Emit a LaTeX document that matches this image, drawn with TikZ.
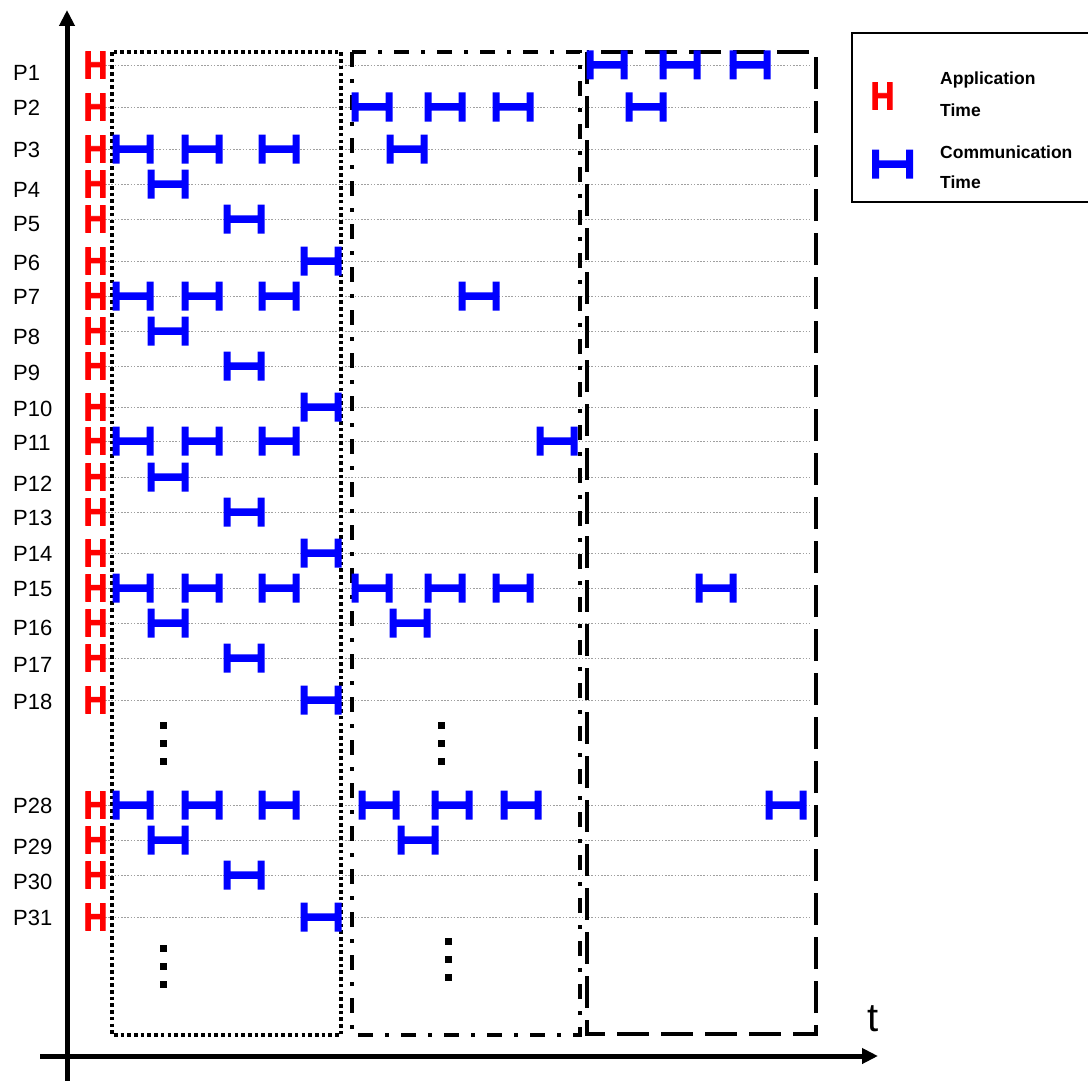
\documentclass[tikz,border=0pt]{standalone}
\usepackage{fontspec}
\usepackage{graphicx}
\setmainfont{Liberation Sans}
\newfontfamily\hfont{Liberation Sans}[BoldFeatures={FakeBold=2.5}]
\usetikzlibrary{arrows.meta}
\definecolor{beamblue}{RGB}{0,0,255}
\definecolor{appred}{RGB}{255,0,0}
\definecolor{gridgray}{RGB}{160,160,160}
\tikzset{
  ibeam/.pic={\fill[beamblue] (-20.5,-14.5) rectangle (-13.5,14.5)
                               (13.5,-14.5) rectangle (20.5,14.5)
                               (-14,-3.75) rectangle (14,3.75);},
  gridline/.style={draw=gridgray, line width=0.9pt, dash pattern=on 1.6pt off 1.6pt},
  plabel/.style={anchor=west, inner sep=0pt, font=\fontsize{22}{26}\selectfont},
  apph/.style={inner sep=0pt, text=appred, font=\hfont\fontsize{39}{42}\selectfont\bfseries},
  axis/.style={line width=5pt, -{Triangle[length=16pt,width=15pt]}},
  legtext/.style={anchor=west, inner sep=0pt, font=\fontsize{17.5}{20}\selectfont\bfseries},
  ellip/.style={fill=black},
}
\newcommand{\appH}{\scalebox{0.85}[1]{H}}
\begin{document}
\begin{tikzpicture}[x=1pt, y=-1pt]
\useasboundingbox (0,0) rectangle (1088,1081);
% axes
\draw[axis] (67,1081) -- (67,10);
\draw[axis] (40,1056) -- (878,1056);
\node[inner sep=0pt, anchor=base, font=\fontsize{40}{44}\selectfont] (tlbl) at (873,1031) {t};
% rows
\foreach \n/\gy/\ly in {1/65/73, 2/107/108, 3/149/150, 4/184/190, 5/219/224, 6/261/263, 7/296/297, 8/331/337, 9/366/373, 10/407/409, 11/441/443, 12/477/484, 13/512/518, 14/553/554, 15/588/589, 16/623/628, 17/658/665, 18/700/702, 28/805/806, 29/840/847, 30/875/882, 31/917/918}{
  \draw[gridline] (105,\gy) -- (810,\gy);
  \node[plabel] (lP\n) at (13,\ly) {P\n};
  \node[apph] (hP\n) at (95.5,\gy) {\appH};
}
% boxes
\draw[line width=3.6pt, dash pattern=on 3.6pt off 3.1pt] (112,52) rectangle (341,1035);
\draw[line width=3.6pt, dash pattern=on 15pt off 12pt on 4pt off 12pt] (352,52) rectangle (580,1035);
\draw[line width=4pt, dash pattern=on 32pt off 12pt] (587,52) rectangle (816,1034);
% column 1 communications
\foreach \ya/\yb/\yc/\yd in {149/184/219/261, 296/331/366/407, 441/477/512/553, 588/623/658/700, 805/840/875/917}{
  \pic at (133,\ya) {ibeam};
  \pic at (202,\ya) {ibeam};
  \pic at (279,\ya) {ibeam};
  \pic at (168,\yb) {ibeam};
  \pic at (244,\yc) {ibeam};
  \pic at (321,\yd) {ibeam};
}
% column 2 communications
\foreach \x in {372,445,513}{\pic at (\x,107) {ibeam}; \pic at (\x,588) {ibeam};}
\pic at (407,149) {ibeam};
\pic at (479,296) {ibeam};
\pic at (557,441) {ibeam};
\pic at (410,623) {ibeam};
\foreach \x in {379,452,521}{\pic at (\x,805) {ibeam};}
\pic at (418,840) {ibeam};
% column 3 communications
\foreach \x in {607,680,750}{\pic at (\x,65) {ibeam};}
\pic at (646,107) {ibeam};
\pic at (716,588) {ibeam};
\pic at (786,805) {ibeam};
% vertical ellipses
\foreach \cx/\cy in {163/725, 163/743, 163/761, 163/948, 163/966, 163/984, 441/725, 441/743, 441/761, 448/941, 448/959, 448/977}{
  \fill[ellip] (\cx-3.5,\cy-3.5) rectangle (\cx+3.5,\cy+3.5);
}
% legend
\draw[line width=2pt] (852,33) rectangle (1092,202);
\node[apph] (legH) at (882.5,96) {\appH};
\pic at (892.5,164) {ibeam};
\node[legtext] (legA1) at (940,80) {Application};
\node[legtext] (legA2) at (940,110) {Time};
\node[legtext] (legC1) at (940,152.5) {Communication};
\node[legtext] (legC2) at (940,182) {Time};
\end{tikzpicture}
\end{document}
